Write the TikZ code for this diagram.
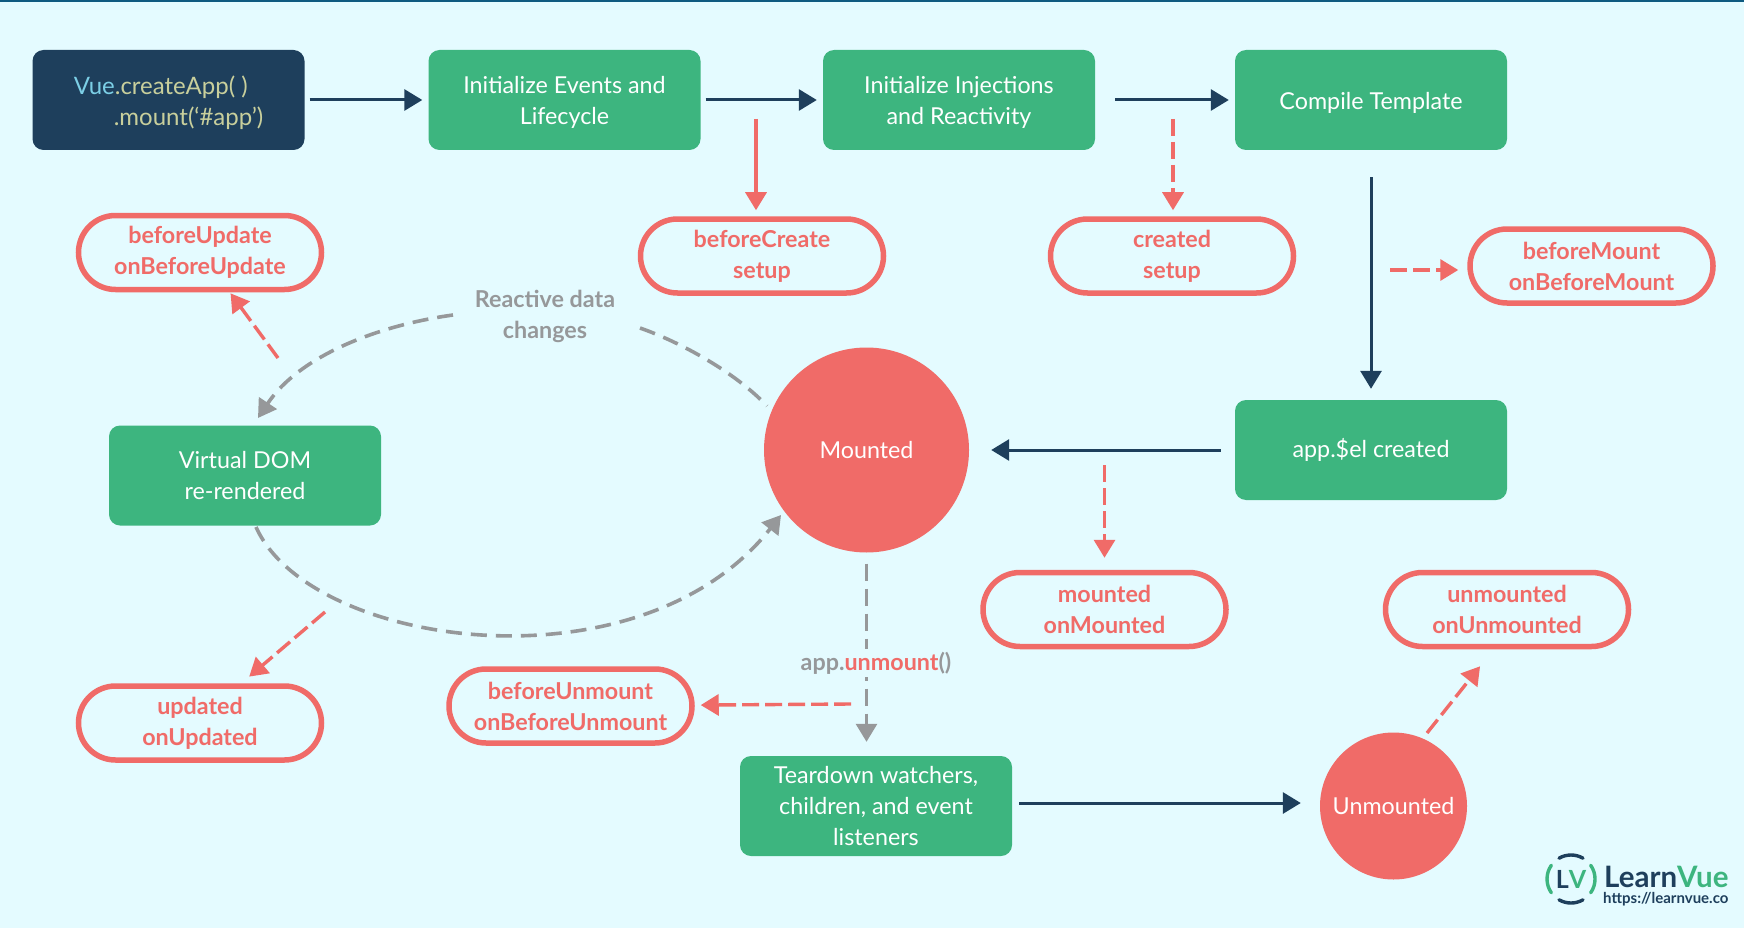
\documentclass[tikz,border=0pt]{standalone}
\usepackage{fontspec}
\setmainfont{Lato}
\usepackage{tikz}
\usetikzlibrary{arrows.meta}
\definecolor{paper}{HTML}{E4FBFF}
\definecolor{topbar}{HTML}{0E5A80}
\definecolor{navy}{HTML}{1E3F5C}
\definecolor{leaf}{HTML}{3DB57F}
\definecolor{coral}{HTML}{F06B68}
\definecolor{ash}{HTML}{96989A}
\definecolor{vueblue}{HTML}{7CCFE6}
\definecolor{vuecream}{HTML}{C8CF9C}
\newcommand{\bodysize}{\fontsize{23.3}{31}\selectfont}
\newcommand{\toplift}{\rule{0pt}{22pt}}
\newcommand{\startlift}{\rule{0pt}{24pt}}
\tikzset{
  greenbox/.style={fill=leaf, rounded corners=11pt, minimum width=272pt, minimum height=100pt,
    align=center, text=white, font=\bodysize},
  navybox/.style={greenbox, fill=navy, align=left, font=\fontsize{24}{31}\selectfont},
  hookpill/.style={draw=coral, line width=5.5pt, fill=paper, rounded corners=37pt, minimum width=243pt,
    minimum height=74pt, align=center, text=coral, font=\bodysize\bfseries},
  redcircle/.style={circle, fill=coral, text=white, font=\bodysize, inner sep=0pt},
  flow/.style={draw=navy, line width=3pt, -{Triangle[length=18pt, width=21pt]}},
  hookline/.style={draw=coral, line width=3.4pt, dash pattern=on 17pt off 6pt, -{Triangle[length=18pt, width=21pt]}},
  greyline/.style={draw=ash, line width=3.6pt, dash pattern=on 16pt off 9pt},
  greyarrow/.style={greyline, -{Triangle[length=18pt, width=21pt]}},
  greylabel/.style={text=ash, align=center, font=\bodysize\bfseries},
}
\begin{document}
\begin{tikzpicture}[x=1pt, y=-1pt]
      \useasboundingbox (0,0) rectangle (1744,928);
      \fill[paper] (0,0) rectangle (1744,928);
      \fill[topbar] (0,0) rectangle (1744,2.5);
      % main steps
      \node[navybox] (start) at (168.5,100) {\startlift\textcolor{vueblue}{Vue}\textcolor{vuecream}{.createApp( )}\\
        \hspace*{40pt}\textcolor{vuecream}{.mount(‘\#app’)}};
      \node[greenbox] (events) at (564.5,100) {\toplift Initialize Events and\\Lifecycle};
      \node[greenbox] (inject) at (959,100) {\toplift Initialize Injections\\and Reactivity};
      \node[greenbox] (compile) at (1371,100) {\toplift Compile Template};
      \node[greenbox] (elcreated) at (1371,450) {app.\$el created};
      \node[greenbox] (vdom) at (245,475.5) {Virtual DOM\\re-rendered};
      \node[greenbox] (teardown) at (876,806) {Teardown watchers,\\children, and event\\listeners};
      \node[redcircle, minimum size=205pt] (mounted) at (866.5,450) {Mounted};
      \node[redcircle, minimum size=147pt] (unmounted) at (1393.5,806) {Unmounted};
      % hooks
      \node[hookpill] (beforeupdate) at (200,252.5) {beforeUpdate\\onBeforeUpdate};
      \node[hookpill] (beforecreate) at (762,256) {beforeCreate\\setup};
      \node[hookpill] (created) at (1172,256) {created\\setup};
      \node[hookpill] (beforemount) at (1591.5,266) {beforeMount\\onBeforeMount};
      \node[hookpill] (mountedhook) at (1104.5,609.5) {mounted\\onMounted};
      \node[hookpill] (unmountedhook) at (1507,609.5) {unmounted\\onUnmounted};
      \node[hookpill] (beforeunmount) at (570.5,706) {beforeUnmount\\onBeforeUnmount};
      \node[hookpill] (updated) at (200,723) {updated\\onUpdated};
      % grey labels
      \node[greylabel] (reactive) at (545,316) {Reactive data\\changes};
      % main flow
      \draw[flow, shorten <=5pt, shorten >=6pt] (start) -- (events);
      \draw[flow, shorten <=5pt, shorten >=6pt] (events) -- (inject);
      \draw[flow, shorten <=20pt, shorten >=6pt] (inject) -- (compile);
      \draw[flow, shorten <=27pt, shorten >=11pt] (compile) -- (elcreated);
      \draw[flow, shorten <=14pt, shorten >=22pt] (elcreated) -- (mounted);
      \draw[flow, shorten <=7pt, shorten >=19pt] (teardown.east |- 0,803) -- (unmounted.west |- 0,803);
      % hook lines
      \coordinate (createfrom) at (756,119);
      \coordinate (createdfrom) at (1173,119);
      \coordinate (mountfrom) at (1390,270);
      \coordinate (mountedfrom) at (1104.5,465);
      \coordinate (updatefrom) at (278,358);
      \coordinate (updatedfrom) at (325,612);
      \coordinate (unmountfrom) at (851,704);
      \coordinate (unmountedfrom) at (1427,733);
      \draw[hookline, solid, shorten >=6pt] (createfrom) -- (createfrom |- beforecreate.north);
      \draw[hookline, shorten >=6pt] (createdfrom) -- (created.north -| createdfrom);
      \draw[hookline, shorten >=9pt] (mountfrom) -- (beforemount.west |- mountfrom);
      \draw[hookline, shorten >=12pt] (mountedfrom) -- (mountedhook);
      \draw[hookline, shorten >=6pt] (updatefrom) -- (227,288.5);
      \draw[hookline, shorten >=16pt] (updatedfrom) -- (237,687);
      \draw[hookline, shorten >=6pt] (unmountfrom) -- (beforeunmount);
      \draw[hookline, shorten >=24pt] (unmountedfrom) -- (1495,647.5);
      % reactive loop
      \coordinate (reactiveleft) at (453,315);
      \coordinate (reactiveright) at (640,328);
      \draw[greyarrow] (reactiveleft) .. controls (380,325) and (300,355) .. (258,418);
      \draw[greyline] (reactiveright) .. controls (680,342) and (735,372) .. (767,406);
      \draw[greyarrow] (256,527) .. controls (310,648) and (640,694) .. (781,515);
      \draw[greyarrow, dash pattern=on 17pt off 8pt, line width=3pt, shorten <=11pt, shorten >=14pt] (mounted) -- (mounted |- teardown.north);
      \node[greylabel, fill=paper, inner sep=3pt] (unmountcall) at (876,663) {app.\textcolor{coral}{unmount}()};
      % logo
      \draw[leaf, line width=3.4pt, line cap=round] (1571,879) ++(145:24) arc (145:215:24);
      \draw[leaf, line width=3.4pt, line cap=round] (1571,879) ++(-35:24) arc (-35:35:24);
      \draw[navy, line width=3.4pt, line cap=round] (1571,879) ++(60:24) arc (60:120:24);
      \draw[navy, line width=3.4pt, line cap=round] (1571,879) ++(240:24) arc (240:300:24);
      \node[inner sep=0pt, font=\fontsize{25}{25}\selectfont\bfseries] (lvmark) at (1571,879) {\textcolor{navy}{L}\textcolor{leaf}{V}};
      \node[inner sep=0pt, anchor=west, font=\fontsize{29.5}{29.5}\selectfont\bfseries] (logoname) at (1604,877) {\textcolor{navy}{Learn}\textcolor{leaf}{Vue}};
      \node[inner sep=0pt, anchor=west, text=navy, font=\fontsize{15}{15}\selectfont\bfseries] (logourl) at (1603,899) {https://learnvue.co};
\end{tikzpicture}
\end{document}
